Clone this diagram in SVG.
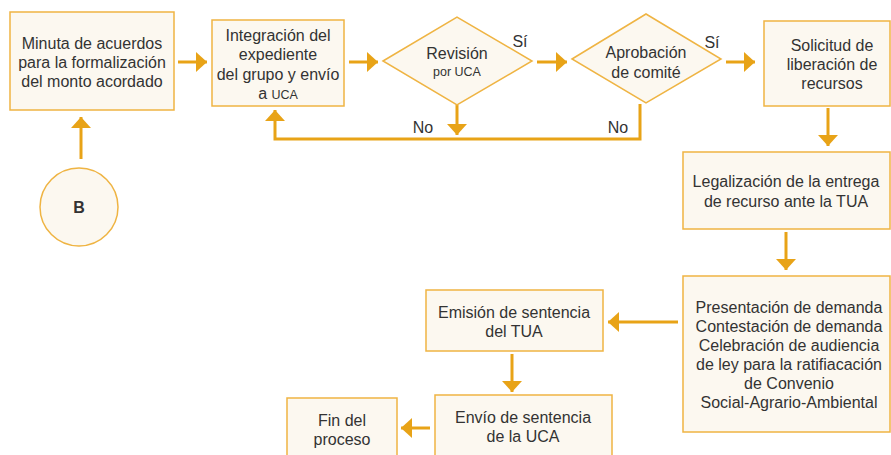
<svg xmlns="http://www.w3.org/2000/svg" width="891" height="455" viewBox="0 0 891 455">
<defs>
<style>
.box{fill:#FCF8F0;stroke:#EFB443;stroke-width:1.5}
.t{font-family:"Liberation Sans",Arial,Helvetica,sans-serif;font-size:16px;fill:#333;text-anchor:middle}
.s{font-size:12.5px}
.c{fill:none;stroke:#E8A317;stroke-width:3}
</style>
<marker id="ah" markerUnits="userSpaceOnUse" markerWidth="12" markerHeight="20" refX="11" refY="10" orient="auto" viewBox="0 0 12 20">
<path d="M0,0 L11,10 L0,20 z" fill="#E8A317"/>
</marker>
</defs>
<rect width="891" height="455" fill="#fff"/>
<g id="connectors">
<line class="c" x1="178" y1="62" x2="207" y2="62" marker-end="url(#ah)"/>
<line class="c" x1="349" y1="62" x2="378" y2="62" marker-end="url(#ah)"/>
<line class="c" x1="537" y1="62" x2="567" y2="62" marker-end="url(#ah)"/>
<line class="c" x1="726" y1="62" x2="755" y2="62" marker-end="url(#ah)"/>
<line class="c" x1="828" y1="108" x2="828" y2="146" marker-end="url(#ah)"/>
<line class="c" x1="786" y1="232" x2="786" y2="270" marker-end="url(#ah)"/>
<line class="c" x1="678" y1="322" x2="608" y2="322" marker-end="url(#ah)"/>
<line class="c" x1="512" y1="354" x2="512" y2="392" marker-end="url(#ah)"/>
<line class="c" x1="430" y1="428" x2="401" y2="428" marker-end="url(#ah)"/>
<line class="c" x1="81" y1="159" x2="81" y2="117" marker-end="url(#ah)"/>
<line class="c" x1="457" y1="105" x2="457" y2="135" marker-end="url(#ah)"/>
<polyline class="c" points="640,104 640,139 275,139 275,110" marker-end="url(#ah)"/>
<text class="t" x="520" y="47">Sí</text>
<text class="t" x="712" y="48">Sí</text>
<text class="t" x="423" y="133">No</text>
<text class="t" x="618" y="133">No</text>
</g>
<g id="minuta">
<rect class="box" x="10" y="12" width="164" height="98"/>
<text class="t" x="92" y="49">Minuta de acuerdos</text>
<text class="t" x="92" y="68">para la formalización</text>
<text class="t" x="92" y="87">del monto acordado</text>
</g>
<g id="integracion">
<rect class="box" x="212" y="20" width="132" height="86"/>
<text class="t" x="278" y="41">Integración del</text>
<text class="t" x="278" y="60">expediente</text>
<text class="t" x="278" y="80">del grupo y envío</text>
<text class="t" x="278" y="99">a <tspan class="s">UCA</tspan></text>
</g>
<g id="revision">
<polygon class="box" points="383,61 457,17 532,61 457,105"/>
<text class="t" x="457" y="59">Revisión</text>
<text class="t s" x="457" y="76">por UCA</text>
</g>
<g id="aprobacion">
<polygon class="box" points="572,59 646,14 721,59 646,103"/>
<text class="t" x="646" y="58">Aprobación</text>
<text class="t" x="646" y="78">de comité</text>
</g>
<g id="solicitud">
<rect class="box" x="764" y="21" width="126" height="85"/>
<text class="t" x="832" y="51">Solicitud de</text>
<text class="t" x="832" y="70">liberación de</text>
<text class="t" x="832" y="89">recursos</text>
</g>
<g id="legalizacion">
<rect class="box" x="683" y="152" width="207" height="77"/>
<text class="t" x="786" y="187">Legalización de la entrega</text>
<text class="t" x="786" y="207">de recurso ante la TUA</text>
</g>
<g id="presentacion">
<rect class="box" x="683" y="276" width="207" height="156"/>
<text class="t" x="789" y="313">Presentación de demanda</text>
<text class="t" x="789" y="332">Contestación de demanda</text>
<text class="t" x="789" y="351">Celebración de audiencia</text>
<text class="t" x="789" y="370">de ley para la ratifiacación</text>
<text class="t" x="789" y="389">de Convenio</text>
<text class="t" x="789" y="408">Social-Agrario-Ambiental</text>
</g>
<g id="emision">
<rect class="box" x="426" y="290" width="177" height="61"/>
<text class="t" x="514" y="318">Emisión de sentencia</text>
<text class="t" x="514" y="337">del TUA</text>
</g>
<g id="envio">
<rect class="box" x="435" y="395" width="177" height="70"/>
<text class="t" x="523" y="423">Envío de sentencia</text>
<text class="t" x="523" y="442">de la UCA</text>
</g>
<g id="fin">
<rect class="box" x="287" y="398" width="110" height="67"/>
<text class="t" x="342" y="426">Fin del</text>
<text class="t" x="342" y="445">proceso</text>
</g>
<g id="b">
<circle class="box" cx="79" cy="207" r="39"/>
<text class="t" x="79" y="213" font-weight="bold">B</text>
</g>
</svg>
